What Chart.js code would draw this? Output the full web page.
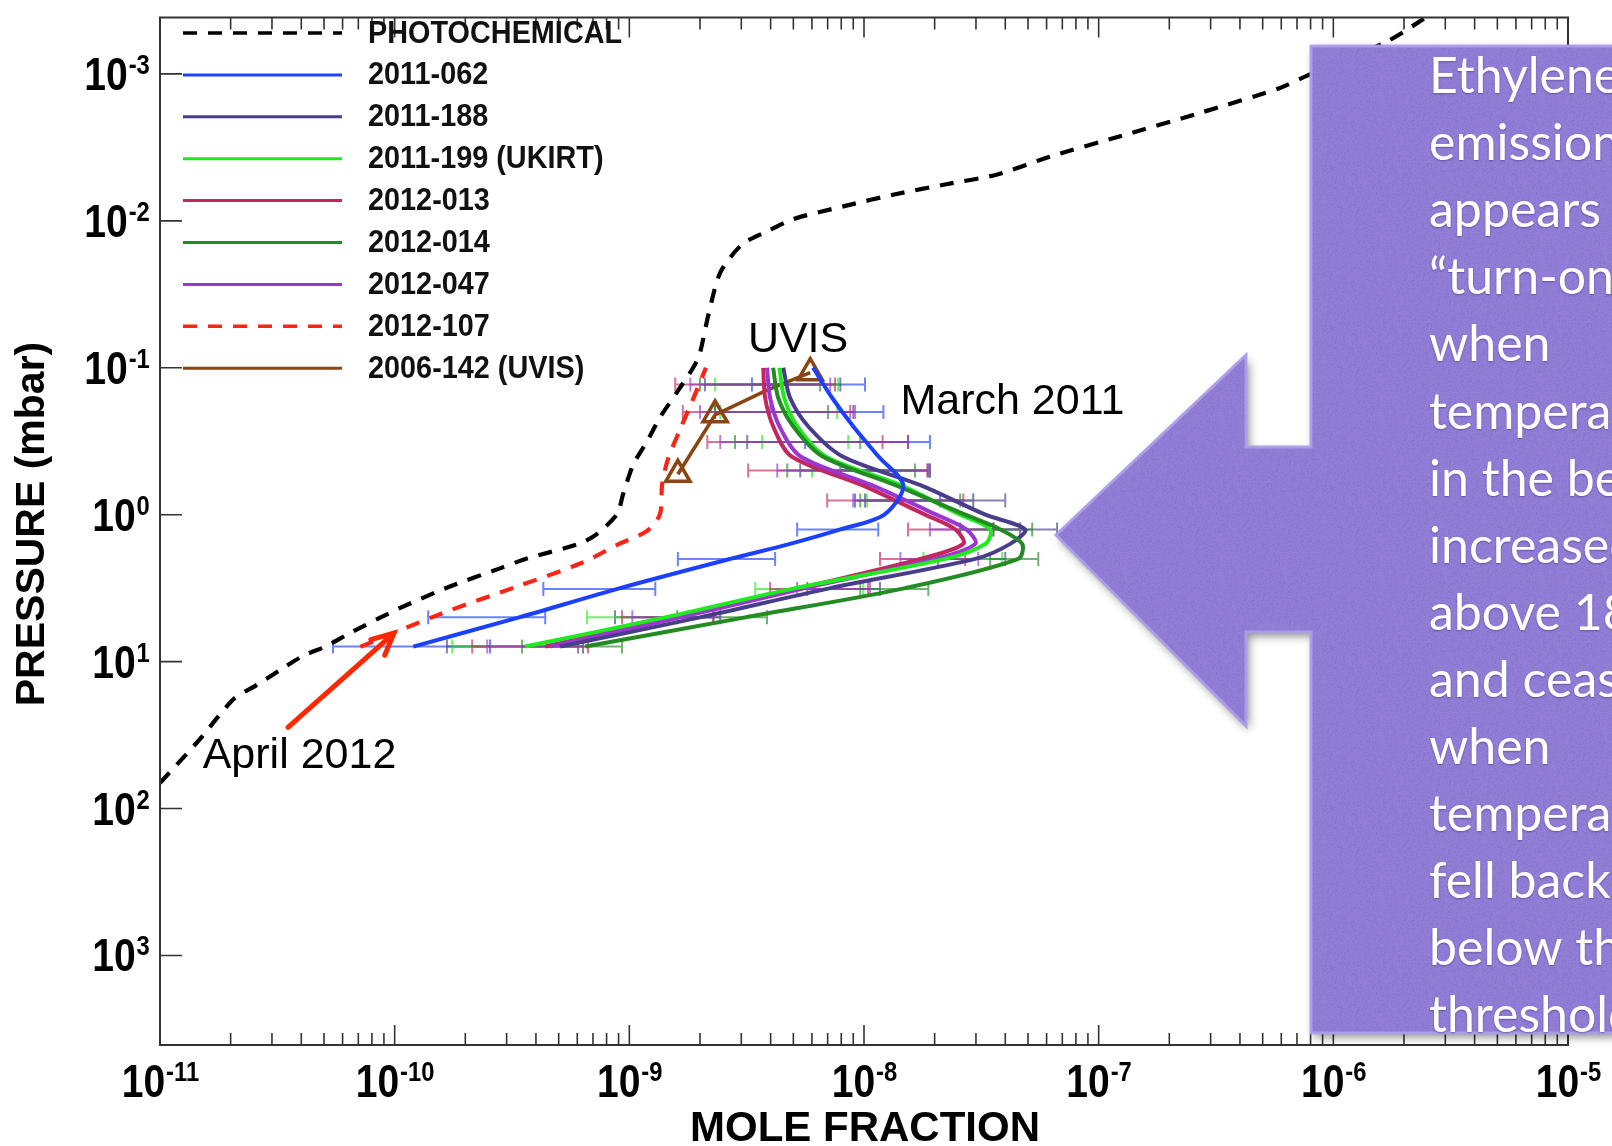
<!DOCTYPE html>
<html>
<head>
<meta charset="utf-8">
<script src="https://cdn.jsdelivr.net/npm/chart.js@4.4.1/dist/chart.umd.min.js"></script>
<style>
  html, body { margin: 0; padding: 0; background: #fff; }
  #wrap { width: 1612px; height: 1146px; }
</style>
</head>
<body>
<div id="wrap"><canvas id="profiles" width="1612" height="1146"></canvas></div>
<script>
// photochemical model profile (mole fraction vs pressure in mbar)
const photoX = [1.0e-11, 1.48e-11, 2.05e-11, 2.59e-11, 3.25e-11, 4.07e-11, 5.15e-11, 6.46e-11, 1.05e-10, 1.72e-10,
  2.81e-10, 3.66e-10, 6.17e-10, 7.29e-10, 8.87e-10, 9.42e-10, 1.04e-9, 1.19e-9, 1.35e-9, 1.60e-9,
  1.87e-9, 1.99e-9, 2.17e-9, 2.44e-9, 3.03e-9, 3.91e-9, 4.99e-9, 8.24e-9, 1.36e-8, 2.24e-8,
  3.70e-8, 6.22e-8, 1.26e-7, 2.71e-7, 5.89e-7, 7.82e-7, 1.70e-6, 2.59e-6];
const photoP = [67.0, 33.7, 18.1, 14.4, 11.4, 9.14, 7.82, 6.38, 4.33, 3.08,
  2.32, 1.99, 1.57, 1.35, 0.99, 0.72, 0.454, 0.317, 0.218, 0.146,
  0.100, 0.0818, 0.0440, 0.0225, 0.0144, 0.0117, 0.00973, 0.00794, 0.00659, 0.00564,
  0.00483, 0.00365, 0.00263, 0.00184, 0.00125, 0.00102, 0.00060, 0.000394];

// pressure grid of the retrieved profiles (mbar)
const levelP = [0.10, 0.16, 0.25, 0.40, 0.63, 1.0, 1.26, 1.58, 2.0, 3.16, 5.0, 7.9];
const x2011_062 = [6.07e-9, 7.31e-9, 8.99e-9, 1.15e-8, 1.47e-8, 1.22e-8, 7.93e-9, 4.84e-9, 2.69e-9, 9.14e-10, 3.39e-10, 1.20e-10];
const x2011_188 = [4.53e-9, 4.84e-9, 5.78e-9, 8.07e-9, 1.74e-8, 3.29e-8, 4.86e-8, 4.20e-8, 2.98e-8, 7.18e-9, 2.00e-9, 5.07e-10];
const x2011_199 = [4.36e-9, 4.57e-9, 5.19e-9, 6.84e-9, 1.43e-8, 2.57e-8, 3.45e-8, 3.29e-8, 2.22e-8, 5.10e-9, 1.42e-9, 3.60e-10];
const x2012_013 = [3.72e-9, 3.79e-9, 4.10e-9, 4.90e-9, 9.82e-9, 1.82e-8, 2.45e-8, 2.65e-8, 1.74e-8, 5.35e-9, 1.57e-9, 4.38e-10];
const x2012_014 = [4.10e-9, 4.31e-9, 4.99e-9, 6.64e-9, 1.36e-8, 2.70e-8, 3.81e-8, 4.72e-8, 4.54e-8, 1.50e-8, 3.12e-9, 6.49e-10];
const x2012_047 = [3.86e-9, 3.98e-9, 4.36e-9, 5.35e-9, 1.08e-8, 2.03e-8, 2.73e-8, 2.98e-8, 2.01e-8, 5.61e-9, 1.65e-9, 4.59e-10];

// 2012-107 profile has its own pressure points
const p2012_107 = [7.94, 4.75, 3.08, 2.15, 1.57, 1.29, 0.99, 0.62, 0.42, 0.26, 0.17, 0.10];
const x2012_107 = [7.13e-11, 1.56e-10, 3.33e-10, 6.17e-10, 9.14e-10, 1.19e-9, 1.35e-9, 1.38e-9, 1.46e-9, 1.65e-9, 1.85e-9, 2.12e-9];

// UVIS occultation points
const uvisP = [0.108, 0.142, 0.209, 0.531];
const uvisX = [5.90e-9, 3.86e-9, 2.32e-9, 1.61e-9];

// error bars (low / high mole fraction) at these pressures
const errP = [0.13, 0.2, 0.32, 0.5, 0.8, 1.26, 2.0, 3.2, 5.0, 7.9];
const lo2011_062 = [3.33e-9, 3.98e-9, 5.61e-9, 7.93e-9, 9.16e-9, 5.19e-9, 1.61e-9, 4.30e-10, 1.39e-10, 5.46e-11];
const hi2011_062 = [1.01e-8, 1.21e-8, 1.91e-8, 1.91e-8, 2.11e-8, 1.15e-8, 4.18e-9, 1.29e-9, 4.38e-10, 2.55e-10];
const lo2011_188 = [2.10e-9, 2.32e-9, 3.18e-9, 5.35e-9, 1.01e-8, 3.56e-8, 2.07e-8, 5.73e-9, 8.69e-10, 1.67e-10];
const hi2011_188 = [7.93e-9, 9.00e-9, 1.54e-8, 1.88e-8, 4.00e-8, 6.65e-8, 4.00e-8, 1.17e-8, 2.28e-9, 6.05e-10];
const lo2011_199 = [2.32e-9, 2.44e-9, 3.68e-9, 6.01e-9, 1.03e-8, 2.57e-8, 1.79e-8, 3.44e-9, 6.61e-10, 1.76e-10];
const hi2011_199 = [7.76e-9, 7.69e-9, 8.57e-9, 1.91e-8, 2.92e-8, 4.63e-8, 3.88e-8, 9.93e-9, 2.44e-9, 6.35e-10];
const lo2012_013 = [1.57e-9, 1.69e-9, 2.15e-9, 3.21e-9, 6.97e-9, 1.54e-8, 1.17e-8, 3.98e-9, 9.31e-10, 2.14e-10];
const hi2012_013 = [7.53e-9, 8.73e-9, 1.20e-8, 1.86e-8, 2.65e-8, 3.56e-8, 2.70e-8, 1.04e-8, 2.28e-9, 6.67e-10];
const lo2012_014 = [2.00e-9, 2.32e-9, 2.82e-9, 4.71e-9, 9.64e-9, 2.57e-8, 3.45e-8, 9.64e-9, 1.60e-9, 3.49e-10];
const hi2012_014 = [6.50e-9, 7.03e-9, 9.64e-9, 1.65e-8, 2.57e-8, 5.21e-8, 5.53e-8, 1.88e-8, 3.86e-9, 9.31e-10];
const lo2012_047 = [1.82e-9, 2.00e-9, 2.44e-9, 4.27e-9, 9.00e-9, 1.91e-8, 1.43e-8, 5.19e-9, 1.03e-9, 2.48e-10];
const hi2012_047 = [7.18e-9, 9.16e-9, 1.54e-8, 1.91e-8, 2.92e-8, 4.63e-8, 3.07e-8, 1.06e-8, 2.44e-9, 6.35e-10];

// decades shown on the axes
const xDecades = [-11, -10, -9, -8, -7, -6, -5];
const yDecades = [-3, -2, -1, 0, 1, 2, 3];

// text notes placed in data coordinates
const notes = [
  { text: 'UVIS', x: 3.2e-9, p: 0.078 },
  { text: 'March 2011', x: 1.43e-8, p: 0.206 },
  { text: 'April 2012', x: 1.52e-11, p: 53.3 }
];
const arrowFrom = { x: 3.51e-11, p: 28.0 };
const arrowTo = { x: 9.93e-11, p: 6.4 };

const calloutLines = ['Ethylene', 'emission', 'appears to', '\u201cturn-on\u201d', 'when', 'temperatures',
  'in the beginning', 'increased', 'above 180K', 'and ceased', 'when', 'temperatures',
  'fell back', 'below the', 'threshold'];

const SANS = '"Liberation Sans", Arial, Helvetica, sans-serif';

function toXY(xs, ps) {
  return xs.map((x, i) => ({ x: x, y: ps[i] }));
}

function profile(label, xs, color, lo, hi, order) {
  return {
    label: label,
    data: toXY(xs, levelP),
    borderColor: color,
    errColor: color.replace('rgb(', 'rgba(').replace(')', ',0.65)'),
    errLo: lo,
    errHi: hi,
    borderWidth: 4,
    tension: 0.3,
    order: order
  };
}

const datasets = [
  { label: 'PHOTOCHEMICAL', data: toXY(photoX, photoP), borderColor: 'rgb(0,0,0)', borderWidth: 4.2,
    borderDash: [14, 11], tension: 0.25, order: 9 },
  profile('2011-062', x2011_062, 'rgb(28,64,255)', lo2011_062, hi2011_062, 1),
  profile('2011-188', x2011_188, 'rgb(72,61,139)', lo2011_188, hi2011_188, 3),
  profile('2011-199 (UKIRT)', x2011_199, 'rgb(30,235,30)', lo2011_199, hi2011_199, 4),
  profile('2012-013', x2012_013, 'rgb(196,38,96)', lo2012_013, hi2012_013, 6),
  profile('2012-014', x2012_014, 'rgb(34,139,34)', lo2012_014, hi2012_014, 2),
  profile('2012-047', x2012_047, 'rgb(153,55,208)', lo2012_047, hi2012_047, 5),
  { label: '2012-107', data: toXY(x2012_107, p2012_107), borderColor: 'rgb(255,35,20)', borderWidth: 4.2,
    borderDash: [14, 11], tension: 0.3, order: 8 },
  { label: '2006-142 (UVIS)', data: toXY(uvisX, uvisP), borderColor: 'rgb(139,69,19)', borderWidth: 3.6,
    tension: 0, order: 10, pointStyle: 'triangle', pointRadius: [14, 0, 14, 14],
    pointBorderColor: 'rgb(139,69,19)', pointBackgroundColor: 'rgba(255,255,255,0)', pointBorderWidth: 3.5 }
];

// draw 10 with a raised exponent, horizontally condensed like the original
function drawPower(ctx, exp, x, y, align) {
  const squeeze = 0.85;
  const baseFont = 'bold 46px ' + SANS;
  const supFont = 'bold 28px ' + SANS;
  const supText = String(exp);
  ctx.font = baseFont;
  const wb = ctx.measureText('10').width * squeeze;
  ctx.font = supFont;
  const ws = ctx.measureText(supText).width * squeeze;
  let x0 = x;
  if (align === 'center') x0 = x - (wb + ws) / 2;
  if (align === 'right') x0 = x - (wb + ws);
  ctx.save();
  ctx.fillStyle = '#000';
  ctx.textAlign = 'left';
  ctx.textBaseline = 'alphabetic';
  ctx.translate(x0, y);
  ctx.scale(squeeze, 1);
  ctx.font = baseFont;
  ctx.fillText('10', 0, 0);
  ctx.font = supFont;
  ctx.fillText(supText, wb / squeeze + 1, -16);
  ctx.restore();
}

// speckled texture like the slide's paper fill (deterministic hash, no randomness)
function makeTexture() {
  const c = document.createElement('canvas');
  c.width = 160; c.height = 160;
  const g = c.getContext('2d');
  const img = g.createImageData(160, 160);
  for (let j = 0; j < 160; j++) {
    for (let i = 0; i < 160; i++) {
      const h = Math.sin(i * 12.9898 + j * 78.233) * 43758.5453;
      const f = h - Math.floor(h);
      const k = (j * 160 + i) * 4;
      const dark = f > 0.72 ? 1 : 0;
      img.data[k] = 95; img.data[k + 1] = 80; img.data[k + 2] = 170;
      img.data[k + 3] = dark ? 40 : 0;
    }
  }
  g.putImageData(img, 0, 0);
  return c;
}

const errorBars = {
  id: 'errorBars',
  beforeDatasetsDraw(chart) {
    const { ctx, chartArea: a } = chart;
    const xs = chart.scales.x, ys = chart.scales.y;
    ctx.save();
    ctx.beginPath();
    ctx.rect(a.left, a.top, a.right - a.left, a.bottom - a.top);
    ctx.clip();
    ctx.lineWidth = 2;
    chart.data.datasets.forEach(ds => {
      if (!ds.errLo) return;
      ctx.strokeStyle = ds.errColor;
      errP.forEach((p, i) => {
        const py = ys.getPixelForValue(p);
        const x0 = xs.getPixelForValue(ds.errLo[i]);
        const x1 = xs.getPixelForValue(ds.errHi[i]);
        ctx.beginPath();
        ctx.moveTo(x0, py); ctx.lineTo(x1, py);
        ctx.moveTo(x0, py - 7); ctx.lineTo(x0, py + 7);
        ctx.moveTo(x1, py - 7); ctx.lineTo(x1, py + 7);
        ctx.stroke();
      });
    });
    ctx.restore();
  }
};

const frameAndText = {
  id: 'frameAndText',
  afterDraw(chart) {
    const { ctx, chartArea: a } = chart;
    const xs = chart.scales.x, ys = chart.scales.y;
    ctx.save();

    // frame + inward ticks
    ctx.strokeStyle = '#333';
    ctx.lineWidth = 2;
    ctx.strokeRect(a.left, a.top, a.right - a.left, a.bottom - a.top);
    ctx.lineWidth = 1.6;
    ctx.beginPath();
    xDecades.forEach(e => {
      for (let k = 1; k <= 9; k++) {
        if (e === xDecades[xDecades.length - 1] && k > 1) break;
        const px = xs.getPixelForValue(k * Math.pow(10, e));
        const len = k === 1 ? 20 : 12;
        ctx.moveTo(px, a.bottom); ctx.lineTo(px, a.bottom - len);
        ctx.moveTo(px, a.top); ctx.lineTo(px, a.top + len);
      }
    });
    yDecades.forEach(e => {
      const py = ys.getPixelForValue(Math.pow(10, e));
      ctx.moveTo(a.left, py); ctx.lineTo(a.left + 22, py);
      ctx.moveTo(a.right, py); ctx.lineTo(a.right - 22, py);
    });
    ctx.stroke();

    // tick labels
    xDecades.forEach(e => drawPower(ctx, e, xs.getPixelForValue(Math.pow(10, e)), a.bottom + 52, 'center'));
    yDecades.forEach(e => drawPower(ctx, e, a.left - 11, ys.getPixelForValue(Math.pow(10, e)) + 16, 'right'));

    // axis titles
    ctx.fillStyle = '#000';
    ctx.font = 'bold 42px ' + SANS;
    ctx.textAlign = 'center';
    ctx.textBaseline = 'alphabetic';
    ctx.fillText('MOLE FRACTION', 865, 1141);
    ctx.save();
    ctx.translate(33, 524);
    ctx.rotate(-Math.PI / 2);
    ctx.textBaseline = 'middle';
    ctx.font = 'bold 41px ' + SANS;
    ctx.fillText('PRESSURE (mbar)', 0, 0);
    ctx.restore();

    // legend
    chart.data.datasets.forEach((ds, i) => {
      const y = 33 + i * 41.9;
      ctx.save();
      ctx.strokeStyle = ds.borderColor;
      ctx.lineWidth = ds.borderDash ? 3.5 : 3;
      ctx.setLineDash(ds.borderDash || []);
      ctx.beginPath();
      ctx.moveTo(183, y); ctx.lineTo(342, y);
      ctx.stroke();
      ctx.restore();
      ctx.save();
      ctx.fillStyle = '#111';
      ctx.font = 'bold 31px ' + SANS;
      ctx.textAlign = 'left';
      ctx.textBaseline = 'middle';
      ctx.translate(368, y + 1);
      ctx.scale(0.93, 1);
      ctx.fillText(ds.label, 0, 0);
      ctx.restore();
    });

    // notes and arrow
    ctx.fillStyle = '#000';
    ctx.font = '43px ' + SANS;
    ctx.textAlign = 'left';
    ctx.textBaseline = 'alphabetic';
    notes.forEach(n => ctx.fillText(n.text, xs.getPixelForValue(n.x), ys.getPixelForValue(n.p)));
    const ax0 = xs.getPixelForValue(arrowFrom.x), ay0 = ys.getPixelForValue(arrowFrom.p);
    const ax1 = xs.getPixelForValue(arrowTo.x), ay1 = ys.getPixelForValue(arrowTo.p);
    const ang = Math.atan2(ay1 - ay0, ax1 - ax0);
    ctx.strokeStyle = 'rgb(255,38,0)';
    ctx.lineWidth = 5;
    ctx.lineCap = 'round';
    ctx.beginPath();
    ctx.moveTo(ax0, ay0); ctx.lineTo(ax1, ay1);
    ctx.moveTo(ax1 - 24 * Math.cos(ang - 0.45), ay1 - 24 * Math.sin(ang - 0.45));
    ctx.lineTo(ax1, ay1);
    ctx.lineTo(ax1 - 24 * Math.cos(ang + 0.45), ay1 - 24 * Math.sin(ang + 0.45));
    ctx.stroke();

    // slide callout arrow
    ctx.beginPath();
    ctx.moveTo(1056, 535);
    ctx.lineTo(1246, 355);
    ctx.lineTo(1246, 447);
    ctx.lineTo(1311, 447);
    ctx.lineTo(1311, 46);
    ctx.lineTo(1650, 46);
    ctx.lineTo(1650, 1033);
    ctx.lineTo(1311, 1033);
    ctx.lineTo(1311, 632);
    ctx.lineTo(1246, 632);
    ctx.lineTo(1246, 726);
    ctx.closePath();
    ctx.save();
    ctx.shadowColor = 'rgba(0,0,0,0.45)';
    ctx.shadowBlur = 10;
    ctx.shadowOffsetX = 3;
    ctx.shadowOffsetY = 4;
    ctx.fillStyle = 'rgb(146,126,214)';
    ctx.fill();
    ctx.restore();
    ctx.save();
    ctx.clip();
    ctx.fillStyle = ctx.createPattern(makeTexture(), 'repeat');
    ctx.fillRect(1040, 40, 620, 1000);
    ctx.restore();
    ctx.lineWidth = 3;
    ctx.lineJoin = 'miter';
    ctx.strokeStyle = 'rgba(172,158,232,0.95)';
    ctx.stroke();

    ctx.fillStyle = '#fff';
    ctx.font = '50px Lato, "Open Sans", sans-serif';
    ctx.textAlign = 'left';
    ctx.textBaseline = 'alphabetic';
    ctx.shadowColor = 'rgba(60,40,120,0.5)';
    ctx.shadowBlur = 2;
    ctx.shadowOffsetY = 1;
    calloutLines.forEach((t, i) => ctx.fillText(t, 1429, 93 + i * 67.1));

    ctx.restore();
  }
};

const chart = new Chart(document.getElementById('profiles').getContext('2d'), {
  type: 'scatter',
  data: { datasets: datasets },
  options: {
    responsive: false,
    animation: false,
    devicePixelRatio: 1,
    layout: { padding: { top: 10, right: 44, left: 0, bottom: 0 } },
    elements: {
      point: { radius: 0, hoverRadius: 0 },
      line: { fill: false }
    },
    datasets: { scatter: { showLine: true } },
    plugins: {
      legend: { display: false },
      tooltip: { enabled: false }
    },
    scales: {
      x: {
        type: 'logarithmic', min: 1e-11, max: 1e-5, bounds: 'data',
        grid: { display: false }, border: { display: false }, ticks: { display: false },
        afterFit: s => { s.height = 101; }
      },
      y: {
        type: 'logarithmic', reverse: true, min: 4.13e-4, max: 4.07e3, bounds: 'data',
        grid: { display: false }, border: { display: false }, ticks: { display: false },
        afterFit: s => { s.width = 160; }
      }
    }
  },
  plugins: [errorBars, frameAndText]
});
</script>
</body>
</html>
